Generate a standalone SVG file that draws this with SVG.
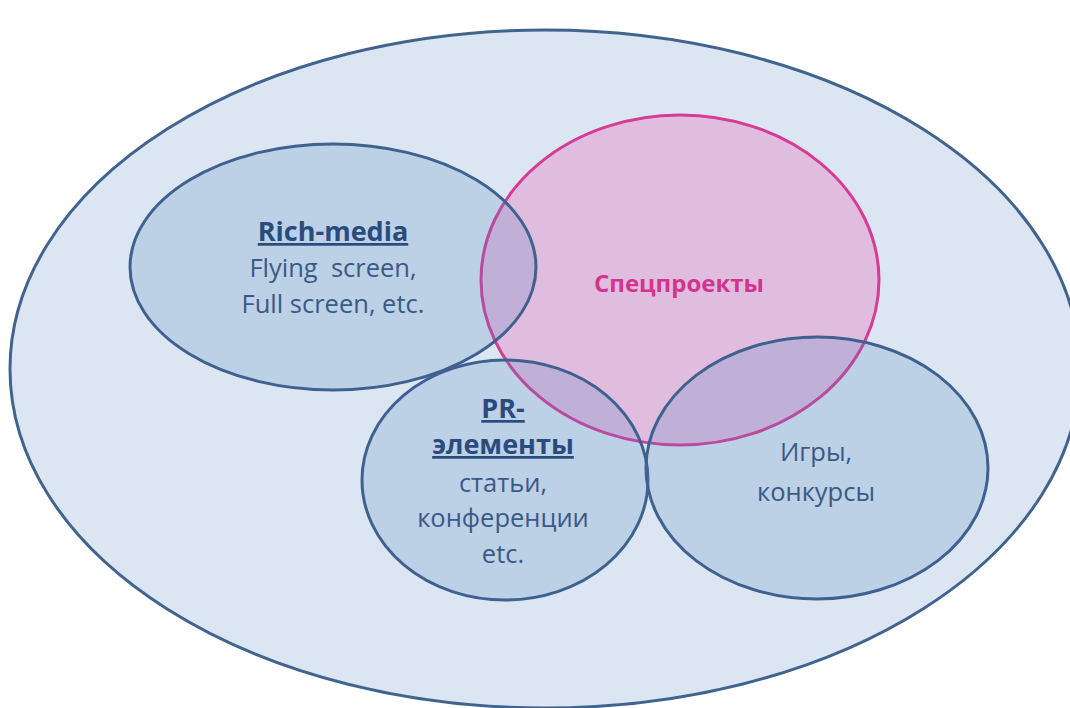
<svg xmlns="http://www.w3.org/2000/svg" width="1070" height="708" viewBox="0 0 1070 708">
<style>
.blue{fill:#4f82bb;fill-opacity:0.22;stroke:#3f6190;stroke-width:3}
.t{font-family:"Open Sans","Noto Sans","DejaVu Sans",sans-serif;font-size:25.5px;fill:#3a5a86;text-anchor:middle}
.h{font-size:27px;font-weight:bold;fill:#2a4c7d;text-decoration:underline}
.p{font-family:"Open Sans","Noto Sans","DejaVu Sans",sans-serif;font-size:24px;font-weight:bold;fill:#d2348f;text-anchor:middle}
</style>
<rect width="1070" height="708" fill="#ffffff"/>
<g id="outer"><ellipse cx="545" cy="369" rx="535" ry="339" fill="#dce6f2" stroke="#41648f" stroke-width="3"/></g>
<g id="spec">
<ellipse cx="680" cy="280" rx="199" ry="165" fill="#e492ca" fill-opacity="0.5" stroke="#d63c96" stroke-width="3"/>
<text class="p" x="679" y="292">Спецпроекты</text>
</g>
<g id="richmedia">
<ellipse class="blue" cx="333" cy="267" rx="203" ry="123"/>
<text class="t h" x="333" y="241">Rich-media</text>
<text class="t" x="333" y="277" xml:space="preserve">Flying  screen,</text>
<text class="t" x="333" y="313">Full screen, etc.</text>
</g>
<g id="pr">
<ellipse class="blue" cx="505" cy="480" rx="143" ry="120"/>
<text class="t h" x="503" y="418">PR-</text>
<text class="t h" x="503" y="454">элементы</text>
<text class="t" x="503" y="492">статьи,</text>
<text class="t" x="503" y="527">конференции</text>
<text class="t" x="503" y="563">etc.</text>
</g>
<g id="games">
<ellipse class="blue" cx="817" cy="468" rx="171" ry="131"/>
<text class="t" x="816" y="461">Игры,</text>
<text class="t" x="816" y="501">конкурсы</text>
</g>
<g id="connectors"/>
</svg>
